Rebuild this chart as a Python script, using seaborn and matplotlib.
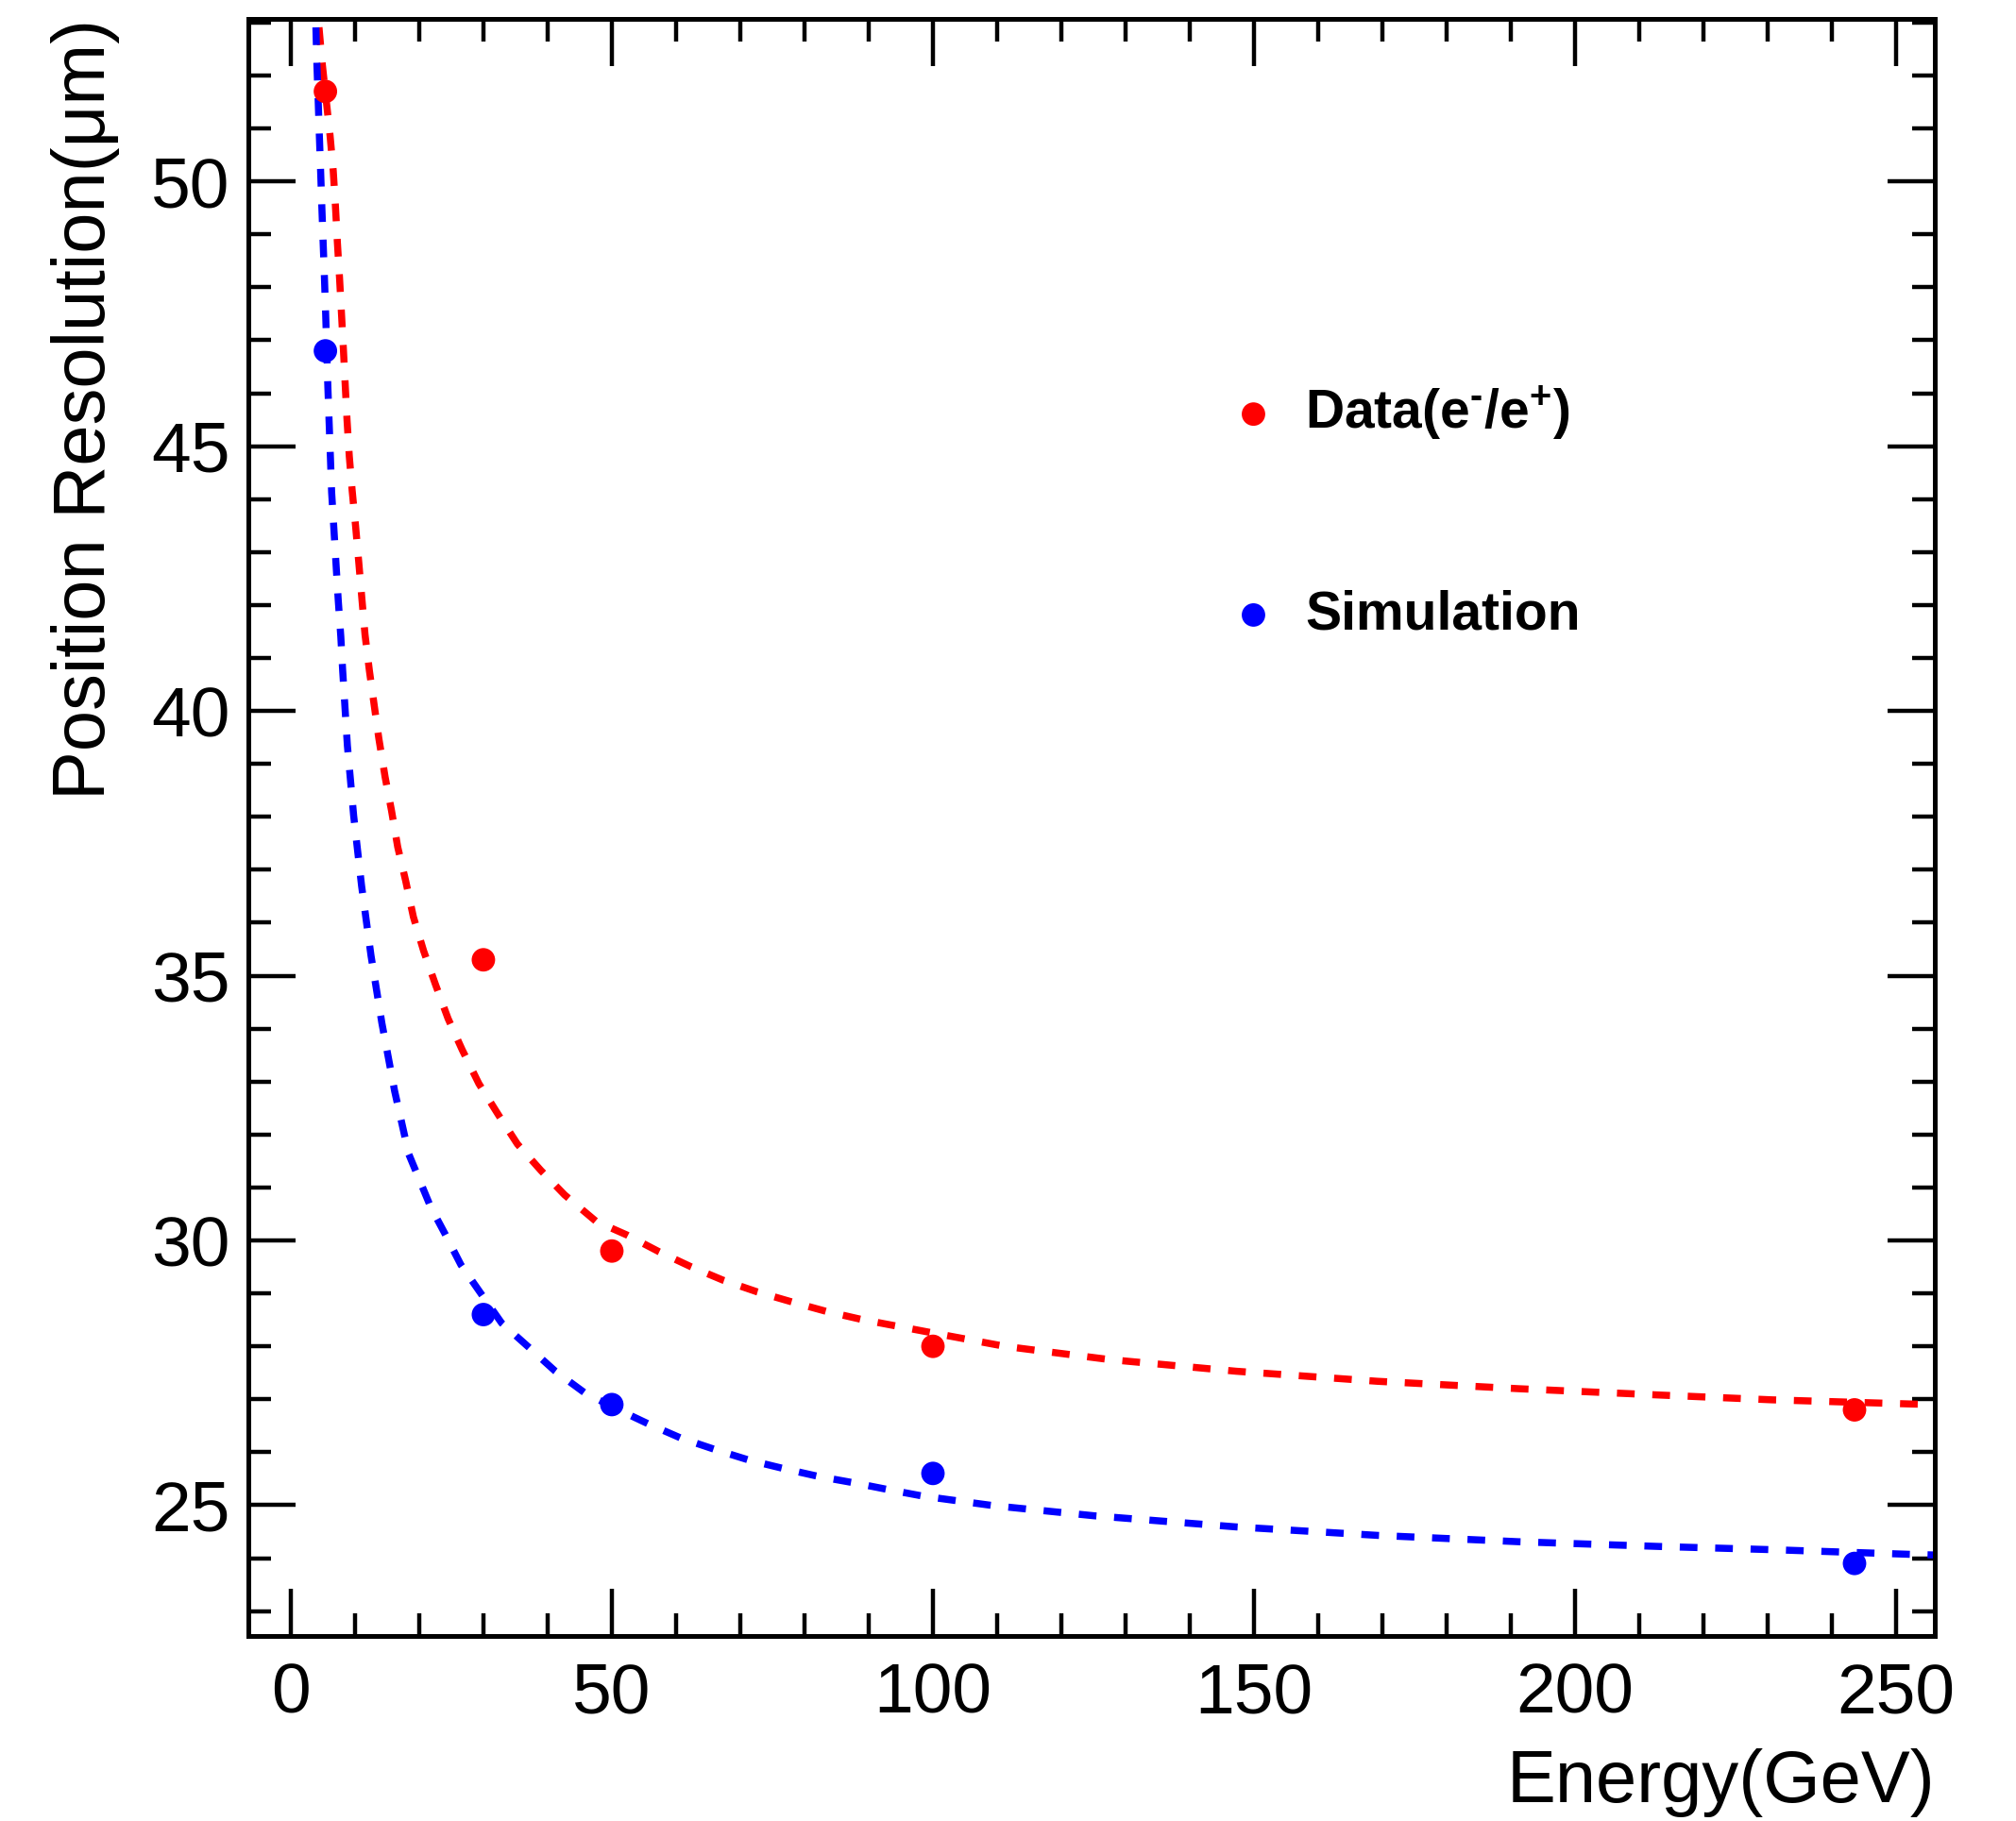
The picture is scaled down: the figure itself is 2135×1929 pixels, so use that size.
import matplotlib
matplotlib.use("Agg")
import matplotlib.pyplot as plt
import seaborn as sns
import pandas as pd

# ---- data ----
energy = [5.4, 30, 50, 100, 243.5]
data_res = [51.7, 35.3, 29.8, 28.0, 26.8]
sim_res = [46.8, 28.6, 26.9, 25.6, 23.9]

# fit curves
data_fit_e = [4.4, 4.9, 6.13, 6.62, 6.96, 7.26, 7.6, 7.9, 8.19, 8.48, 8.77, 9.12, 9.56,
              10.1, 10.6, 11.08, 11.57, 12.25, 13.72, 14.7, 15.69, 16.66, 17.9, 19.1,
              20.69, 22.55, 24.5, 26.7, 29.3, 32.35, 35.3, 38.97, 42.65, 47.55, 52.4,
              57.3, 62.2, 67.3, 72.6, 78.0, 83.4, 88.8, 99.7, 111.2, 127.5, 147.2,
              169.2, 191.2, 213.2, 230.6, 252.6, 256]
data_fit_y = [52.91, 52.23, 50.86, 50.20, 49.54, 48.86, 48.18, 47.51, 46.86, 46.17,
              45.49, 44.81, 44.17, 43.49, 42.80, 42.12, 41.44, 40.76, 39.48, 38.75,
              38.12, 37.43, 36.79, 36.11, 35.47, 34.83, 34.19, 33.60, 32.96, 32.37,
              31.82, 31.32, 30.86, 30.36, 30.10, 29.79, 29.51, 29.25, 29.03, 28.84,
              28.66, 28.51, 28.26, 28.00, 27.75, 27.53, 27.34, 27.20, 27.08, 26.99,
              26.91, 26.90]
sim_fit_e = [3.92, 4.07, 4.27, 4.46, 4.66, 4.85, 5.05, 5.25, 5.44, 5.78, 5.98, 6.18,
             6.37, 6.72, 7.06, 7.4, 7.8, 8.09, 8.82, 9.8, 11.03, 12.5, 14.2, 16.18,
             18.38, 21.8, 24.0, 26.5, 29.66, 32.84, 37.0, 41.2, 45.8, 51.6, 55.6, 60.7,
             66.1, 71.4, 76.8, 82.3, 87.8, 92.8, 98.5, 109.5, 125.1, 147.2, 169.2,
             191.2, 213.2, 230.6, 252.6, 256]
sim_fit_y = [52.91, 52.23, 51.55, 50.86, 50.18, 49.50, 48.84, 48.18, 47.50, 46.13,
             45.45, 44.79, 44.13, 43.44, 42.76, 42.09, 41.40, 40.76, 39.35, 38.02,
             36.70, 35.38, 34.10, 32.82, 31.63, 30.63, 30.13, 29.54, 28.99, 28.44,
             27.99, 27.53, 27.12, 26.77, 26.54, 26.27, 26.05, 25.85, 25.69, 25.54,
             25.42, 25.30, 25.17, 24.99, 24.80, 24.59, 24.43, 24.31, 24.22, 24.16,
             24.07, 24.06]

x_ticks = [0, 50, 100, 150, 200, 250]
y_ticks = [25, 30, 35, 40, 45, 50]
x_label = "Energy(GeV)"
y_label = "Position Resolution(\u03bcm)"
label_data = r"Data(e$^{\text{-}}$/e$^{+}$)"
label_sim = "Simulation"

sns.set_theme(style="white")
plt.rcParams["font.family"] = ["Liberation Sans", "DejaVu Sans"]
plt.rcParams["mathtext.fontset"] = "custom"
plt.rcParams["mathtext.rm"] = "Liberation Sans:bold"
plt.rcParams["mathtext.bf"] = "Liberation Sans:bold"
plt.rcParams["mathtext.it"] = "Liberation Sans:bold"
plt.rcParams["mathtext.default"] = "rm"
for key in ["text.color", "axes.labelcolor", "xtick.color", "ytick.color",
            "axes.edgecolor"]:
    plt.rcParams[key] = "black"

DPI = 200
fig = plt.figure(figsize=(2135 / DPI, 1929 / DPI), dpi=DPI)
ax = fig.add_axes([263 / 2135, 1 - 1733 / 1929, (2049 - 263) / 2135, (1733 - 20) / 1929])

df_d = pd.DataFrame({"E": data_fit_e, "R": data_fit_y})
df_s = pd.DataFrame({"E": sim_fit_e, "R": sim_fit_y})
dash = (0, (2.5, 2.5))
sns.lineplot(data=df_d, x="E", y="R", ax=ax, color="#ff0000", lw=2.7,
             linestyle=dash, sort=False, estimator=None)
sns.lineplot(data=df_s, x="E", y="R", ax=ax, color="#0000ff", lw=2.7,
             linestyle=dash, sort=False, estimator=None)

pts_d = pd.DataFrame({"E": energy, "R": data_res})
pts_s = pd.DataFrame({"E": energy, "R": sim_res})
sns.scatterplot(data=pts_d, x="E", y="R", ax=ax, color="#ff0000", s=80,
                edgecolor="none", label=label_data, zorder=5)
sns.scatterplot(data=pts_s, x="E", y="R", ax=ax, color="#0000ff", s=80,
                edgecolor="none", label=label_sim, zorder=5)

ax.set_xlim(-6.6, 256)
ax.set_ylim(22.53, 53.07)
ax.set_xticks(x_ticks)
ax.set_yticks(y_ticks)
ax.set_xticks(range(0, 260, 10), minor=True)
ax.set_yticks(range(23, 54), minor=True)
ax.tick_params(which="both", direction="in", top=True, right=True,
               bottom=True, left=True, width=1.6, color="black")
ax.tick_params(which="major", length=18, labelsize=27)
ax.tick_params(axis="x", which="major", pad=10)
ax.tick_params(axis="y", which="major", pad=7)
ax.tick_params(which="minor", length=8.6)
for sp in ax.spines.values():
    sp.set_linewidth(1.8)
    sp.set_color("black")

ax.set_xlabel(x_label, fontsize=28, loc="right", labelpad=8)
ax.set_ylabel(y_label, fontsize=28, loc="top", labelpad=12)

leg = ax.legend(loc="center left", bbox_to_anchor=(1299 / 2135, 1 - 542.5 / 1929),
                bbox_transform=fig.transFigure, frameon=False,
                prop={"weight": "bold", "size": 20.5}, handlelength=1.0,
                handletextpad=0.46, labelspacing=2.75, borderpad=0, borderaxespad=0)

fig.savefig("out.png", dpi=DPI, facecolor="white")
